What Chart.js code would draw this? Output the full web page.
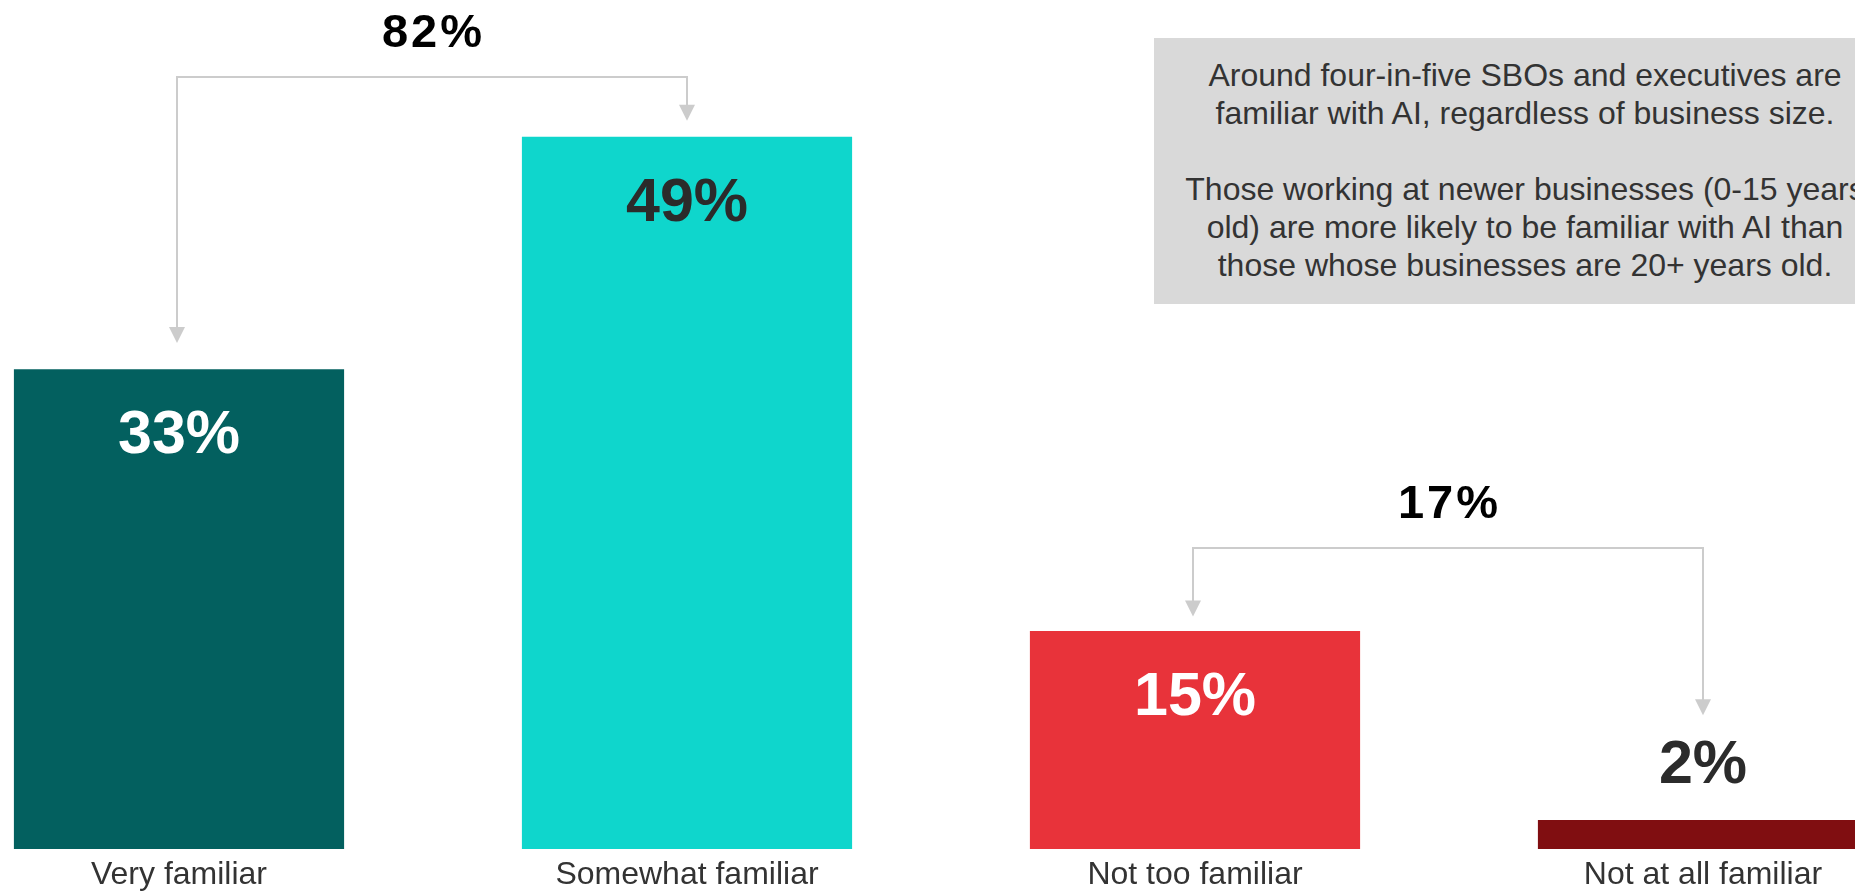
<!DOCTYPE html>
<html>
<head>
<meta charset="utf-8">
<script src="https://cdn.jsdelivr.net/npm/chart.js@4.4.1/dist/chart.umd.min.js"></script>
<style>
  html, body { margin: 0; padding: 0; width: 1855px; height: 893px; overflow: hidden; background: #fff; font-family: "Liberation Sans", Arial, sans-serif; }
  #wrap { position: absolute; left: -75px; top: 0; width: 2032px; height: 893px; }
  #note { position: absolute; left: 1154px; top: 38px; width: 742px; height: 266px; box-sizing: border-box; padding-top: 18px;
          background: #d9d9d9; color: #333; font-size: 32px; line-height: 38px; text-align: center; white-space: nowrap; }
</style>
</head>
<body>
<div id="wrap"><canvas id="c"></canvas></div>
<div id="note">Around four-in-five SBOs and executives are<br>familiar with AI, regardless of business size.<br><br>Those working at newer businesses (0-15 years<br>old) are more likely to be familiar with AI than<br>those whose businesses are 20+ years old.</div>
<script>
// familiarity with AI — share of respondents
const cats = ["Very familiar", "Somewhat familiar", "Not too familiar", "Not at all familiar"];
const vals = [33, 49, 15, 2];
const barColors = ["#03605f", "#0fd6cc", "#e8333a", "#800e11"];
const valColors = ["#ffffff", "#2b2b2b", "#ffffff", "#2b2b2b"];
const valInside = [true, true, true, false];

// familiar / not familiar groupings, summed into the bracket labels
const brackets = [
  { from: 0, to: 1, line: 53.1, tipFrom: 34.8, tipTo: 50.1 },
  { from: 2, to: 3, line: 20.7, tipFrom: 16.0, tipTo: 9.2 },
];

const FONT = '"Liberation Sans", Arial, sans-serif';

const labels = {
  id: "labels",
  afterDatasetsDraw(chart) {
    const { ctx } = chart, x = chart.scales.x, y = chart.scales.y;
    const bars = chart.getDatasetMeta(0).data;
    ctx.save();
    ctx.textAlign = "center";
    ctx.textBaseline = "alphabetic";

    // values on / above bars
    ctx.font = "bold 61px " + FONT;
    bars.forEach((b, i) => {
      ctx.fillStyle = valColors[i];
      ctx.fillText(vals[i] + "%", b.x, valInside[i] ? b.y + 84 : b.y - 37);
    });

    // category labels under the bars
    ctx.font = "32px " + FONT;
    ctx.fillStyle = "#333";
    cats.forEach((c, i) => ctx.fillText(c, x.getPixelForValue(i), 884));

    // brackets with arrowheads
    ctx.strokeStyle = "#cccccc"; ctx.fillStyle = "#cccccc"; ctx.lineWidth = 2;
    const arrow = (px, tip) => {
      ctx.beginPath(); ctx.moveTo(px - 8, tip - 16); ctx.lineTo(px + 8, tip - 16); ctx.lineTo(px, tip); ctx.closePath(); ctx.fill();
    };
    brackets.forEach(br => {
      const x1 = x.getPixelForValue(br.from) - 2, x2 = x.getPixelForValue(br.to);
      const ly = y.getPixelForValue(br.line), t1 = y.getPixelForValue(br.tipFrom), t2 = y.getPixelForValue(br.tipTo);
      ctx.beginPath();
      ctx.moveTo(x1, t1 - 15); ctx.lineTo(x1, ly); ctx.lineTo(x2, ly); ctx.lineTo(x2, t2 - 15);
      ctx.stroke();
      arrow(x1, t1); arrow(x2, t2);
      ctx.save();
      ctx.fillStyle = "#000";
      ctx.font = "bold 47px " + FONT;
      ctx.letterSpacing = "3px";
      ctx.fillText((vals[br.from] + vals[br.to]) + "%", (x1 + x2) / 2 + 1.5, ly - 30);
      ctx.restore();
    });
    ctx.restore();
  }
};

new Chart(document.getElementById("c"), {
  type: "bar",
  data: { labels: cats, datasets: [{ data: vals, backgroundColor: barColors, barPercentage: 0.65, categoryPercentage: 1 }] },
  options: {
    responsive: true, maintainAspectRatio: false, animation: false,
    layout: { padding: { top: 0, left: 0, right: 0, bottom: 44 } },
    plugins: { legend: { display: false }, tooltip: { enabled: false } },
    scales: {
      x: { display: false },
      y: { display: false, min: 0, max: 58.4 },
    },
  },
  plugins: [labels],
});
</script>
</body>
</html>
